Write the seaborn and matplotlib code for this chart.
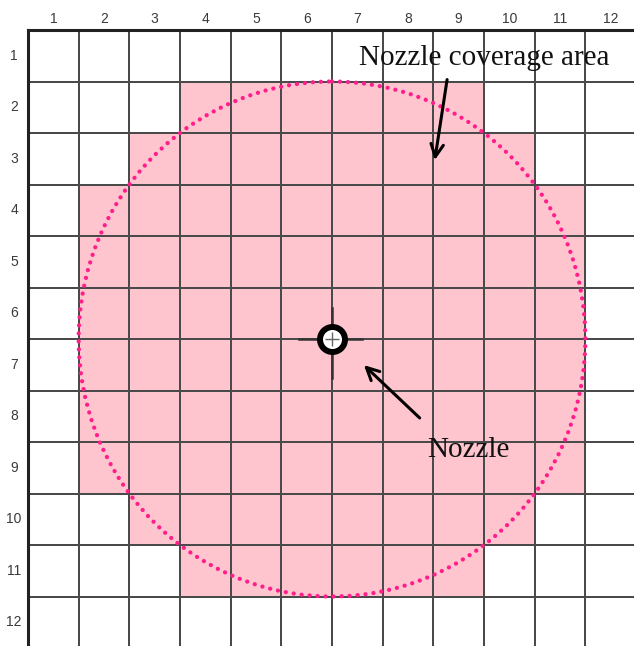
import numpy as np
import matplotlib
matplotlib.use("Agg")
import matplotlib.pyplot as plt
from matplotlib.colors import ListedColormap
from matplotlib.patches import Circle
import seaborn as sns

# grid labels
col_labels = [str(i) for i in range(1, 13)]
row_labels = [str(i) for i in range(1, 13)]

# covered columns per row (first, last), 0 = nothing covered
cover_first = [0, 4, 3, 2, 2, 2, 2, 2, 2, 3, 4, 0]
cover_last = [0, 9, 10, 11, 11, 11, 11, 11, 11, 10, 9, 0]

# nozzle position (grid units) and spray radius
nozzle_x = 6
nozzle_y = 6
cover_radius = 5

# build 12x12 coverage table
coverage = np.zeros((12, 12))
for r, (a, b) in enumerate(zip(cover_first, cover_last)):
    if a > 0:
        coverage[r, a - 1:b] = 1

fig = plt.figure(figsize=(6.34, 6.46), dpi=100)
ax = fig.add_axes([28 / 634, -2 / 646, 608 / 634, 618 / 646])

sns.heatmap(coverage, ax=ax, cmap=ListedColormap(["white", "#FFC5CE"]),
            cbar=False, linewidths=1.4, linecolor="#4a4a4a",
            xticklabels=col_labels, yticklabels=row_labels, square=False)

ax.xaxis.tick_top()
ax.tick_params(axis="x", length=0, pad=3, labelsize=10, labelcolor="#3a3a3a")
ax.tick_params(axis="y", length=0, pad=10, labelsize=10, labelcolor="#3a3a3a")
for t in ax.get_yticklabels():
    t.set_rotation(0)
    t.set_ha("center")
    t.set_fontfamily("Liberation Sans")
for t in ax.get_xticklabels():
    t.set_fontfamily("Liberation Sans")

for side in ["left", "top"]:
    ax.spines[side].set_visible(True)
    ax.spines[side].set_color("#222222")
    ax.spines[side].set_linewidth(2.2)

# coverage circle (dotted)
ring = Circle((nozzle_x, nozzle_y), cover_radius, fill=False, edgecolor="#FF1E8C",
              linewidth=3.1, linestyle=(0, (0.01, 1.85)), capstyle="round", zorder=5)
ax.add_patch(ring)

# nozzle symbol
ax.plot([nozzle_x - 0.65, nozzle_x + 0.6], [nozzle_y, nozzle_y], color="#333333", lw=1.8, zorder=6)
ax.plot([nozzle_x, nozzle_x], [nozzle_y - 0.6, nozzle_y + 0.75], color="#333333", lw=1.8, zorder=6)
ax.scatter([nozzle_x], [nozzle_y], s=324, facecolor="white", edgecolor="black", linewidth=4.3, zorder=7)
ax.scatter([nozzle_x], [nozzle_y], s=90, marker="+", color="#666666", linewidth=1.0, zorder=8)

serif = ["Liberation Serif", "DejaVu Serif"]
ax.annotate("", xy=(8.02, 2.58), xytext=(8.28, 0.91),
            arrowprops=dict(arrowstyle="->,head_length=0.9,head_width=0.45", color="black", lw=2.2), zorder=9)
ax.text(9.0, 0.68, "Nozzle coverage area", ha="center", va="baseline",
        fontsize=21, family=serif, color="#111111", zorder=9)

ax.annotate("", xy=(6.59, 6.47), xytext=(7.77, 7.57),
            arrowprops=dict(arrowstyle="->,head_length=0.9,head_width=0.45", color="black", lw=2.2), zorder=9)
ax.text(8.70, 8.29, "Nozzle", ha="center", va="baseline",
        fontsize=21, family=serif, color="#111111", zorder=9)

fig.savefig("out.png", dpi=100)
